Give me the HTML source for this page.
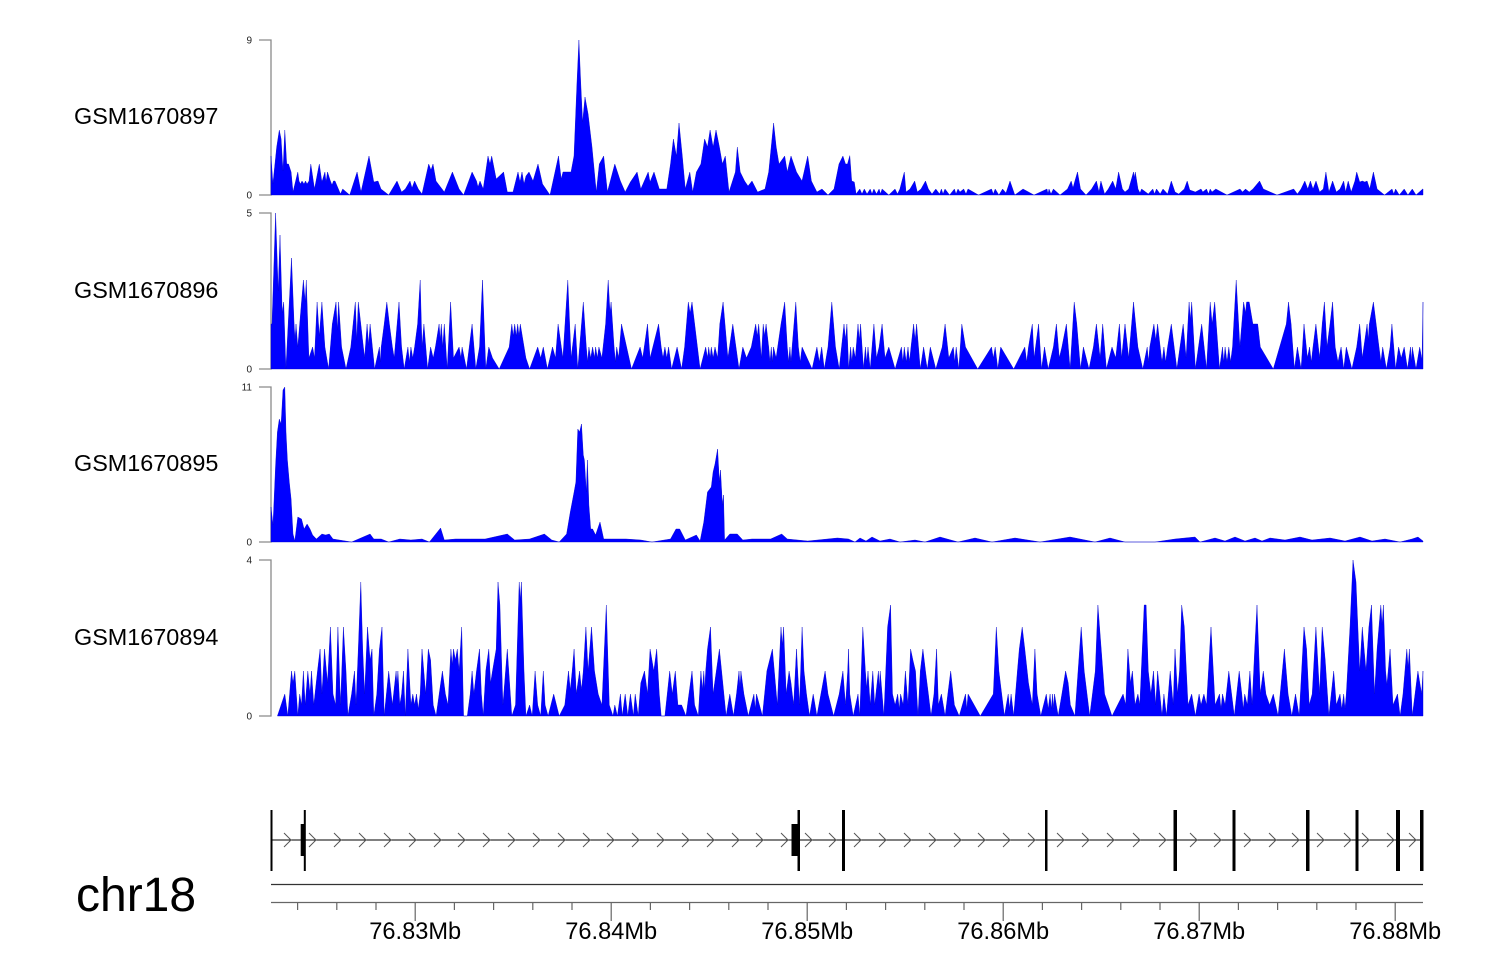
<!DOCTYPE html>
<html>
<head>
<meta charset="utf-8">
<style>
html,body{margin:0;padding:0;background:#fff;}
svg{display:block;}
text{font-family:"Liberation Sans",Arial,sans-serif;}
</style>
</head>
<body>
<svg width="1500" height="980" viewBox="0 0 1500 980" xmlns="http://www.w3.org/2000/svg">
<rect width="1500" height="980" fill="#fff"/>

<text x="74" y="124" font-size="23.4" fill="#000">GSM1670897</text>
<text x="74" y="298" font-size="23.4" fill="#000">GSM1670896</text>
<text x="74" y="471" font-size="23.4" fill="#000">GSM1670895</text>
<text x="74" y="645" font-size="23.4" fill="#000">GSM1670894</text>

<g stroke="#8a8a8a" stroke-width="1.3" fill="none">
  <path d="M259,40 H271 V195 H259"/>
  <path d="M259,213 H271 V369 H259"/>
  <path d="M259,387 H271 V542 H259"/>
  <path d="M259,560 H271 V716 H259"/>
</g>
<g font-size="10" fill="#222" text-anchor="end">
  <text x="252" y="43.5">9</text>
  <text x="252" y="198.5">0</text>
  <text x="252" y="216.5">5</text>
  <text x="252" y="372.5">0</text>
  <text x="252" y="390.5">11</text>
  <text x="252" y="545.5">0</text>
  <text x="252" y="563.5">4</text>
  <text x="252" y="719.5">0</text>
</g>

<g fill="#0000ff" stroke="#0000cc" stroke-width="0.4">
<path d="M271,195 L271,156 L272.9,184 L276.7,147 L279.3,130 L281.1,139 L283,171 L284.8,130 L286.7,164 L288.5,164 L291.1,172 L293,192 L297.8,172 L299,181 L300.5,184 L302,181 L304,184 L305.5,181 L307,184 L309,181 L310.8,164 L314.5,189 L319.3,164 L321.9,182 L324.9,172 L326,182 L327.5,172 L330.4,181 L332,185 L333.5,181 L335,181 L340.5,194 L342.7,189 L349.7,195 L357.1,172 L361,192 L369,156 L373.8,182 L378,181 L381,189 L388.7,195 L397,181 L401.6,192 L405.3,189 L410,181 L412,188 L414.6,181 L418.3,189 L422,194 L428.7,164 L431,170 L433,164 L436,181 L444.3,192 L452.4,172 L459.1,189 L463.6,195 L472.1,172 L476.5,181 L478,187 L480,181 L483.2,189 L488,156 L490,164 L491.7,156 L496.2,179 L503.6,172 L507.3,192 L513,192 L518,172 L520,182 L522,172 L524,184 L526,176 L529,172 L533,181 L538,164 L542.5,184 L550,195 L558.5,156 L561.2,179 L563,172 L566.6,172 L571,172 L574,156 L577,82 L578.9,40 L580.7,82 L582.6,122 L585,97 L588.1,114 L592,147 L596.3,192 L599.3,164 L603.7,156 L607.4,192 L614.8,164 L620.4,181 L625.2,192 L630.4,182 L637.1,172 L640.8,189 L648.2,172 L650,182 L654,172 L659.3,189 L666.8,189 L670.5,164 L673.4,139 L676.4,156 L679,123 L682.3,156 L685.3,189 L689.8,172 L692.7,192 L696.4,172 L700.9,164 L704.6,139 L707.5,147 L710.1,130 L713.1,147 L716,130 L719.4,147 L722.4,164 L725.3,156 L729,192 L735.4,172 L737.3,147 L740.2,172 L744.6,181 L748,186 L752,181 L757.6,192 L765,189 L768.7,172 L773.6,123 L776.2,147 L779,164 L784.7,156 L787.3,172 L791,156 L796.5,172 L802,181 L807.7,156 L811.4,181 L816.9,192 L822,189 L828,195 L834,189 L839,164 L842.9,156 L845.5,164 L847.5,164 L849.8,155.6 L851.7,181 L854.3,182 L856.1,194 L859.8,189 L862,194 L864.3,189 L867,194 L870.2,189 L872,194 L873.9,189 L876.5,194 L879.1,189 L880.5,194 L882.1,189 L888.8,195 L895,189 L897.5,194 L899.9,189 L904.3,172 L906,192 L910,189 L914.7,181 L917.3,192 L921,189 L925.5,181 L928.4,189 L932,194 L935.8,189 L939.6,194 L941.4,189 L943,194 L945,189 L949.6,195 L954.4,189 L956,194 L958,189 L960,192 L963.7,189 L966,194 L968,189 L978.5,195 L991.5,189 L993.3,194 L995.2,189 L998.9,195 L1002.6,189 L1006,193 L1010,181 L1014.8,195 L1023,189 L1034,195 L1047,189 L1048,194 L1049,189 L1051,194 L1053.4,189 L1060,195 L1067.5,189 L1071.2,181 L1073,188 L1074.9,181 L1077.5,172 L1080.5,189 L1086,195 L1091.6,189 L1096.4,181 L1099,192 L1100.9,181 L1104.6,194 L1108.3,189 L1112.7,181 L1115.7,189 L1118.6,172 L1122.4,189 L1125,192 L1128.7,189 L1133.5,172 L1134.4,178 L1135.3,172 L1138,189 L1140,193 L1141.6,189 L1148.3,194 L1152.8,189 L1154.5,194 L1156.5,189 L1160.2,194 L1163,189 L1167.6,194 L1171.3,181 L1175,192 L1178.7,194 L1184.3,189 L1187.2,181 L1189.8,190 L1195.4,192 L1201,189 L1202.8,192 L1206.5,189 L1208.5,194 L1210.2,189 L1212,192 L1215.8,189 L1227,195 L1240,189 L1242.5,192 L1245.5,189 L1249.2,192 L1252.9,189 L1259.6,181 L1263.3,189 L1277,195 L1293.7,189 L1297.4,194 L1301,189 L1304.8,181 L1307.8,189 L1310.4,181 L1313,189 L1316,181 L1319.6,192 L1323.3,189 L1325.9,172 L1328.9,192 L1332.6,181 L1336.3,192 L1340,189 L1343.7,181 L1345.6,192 L1348.2,181 L1351.2,192 L1354.9,181 L1356.7,172 L1359.7,182 L1362.3,181 L1364.8,182 L1367.1,181 L1369.7,189 L1373.4,172 L1377.1,189 L1384.5,195 L1392,189 L1393.8,194 L1395.6,189 L1399.3,195 L1404.2,189 L1407.9,195 L1412.3,189 L1416,195 L1422.7,189 L1423,189 L1423,195 Z"/>

<path d="M271,369 L271,324 L272,324 L275.6,213 L278.2,291 L280,235 L282.2,313 L283.7,302 L285.9,369 L291.5,258 L294.1,324 L295,340 L296,324 L297.8,347 L299.7,324 L301.5,302 L303.4,280 L305.2,302 L306.3,280 L308.9,358 L312.6,347 L314.5,358 L317.1,302 L319.3,336 L321.9,302 L324.9,347 L328.6,369 L332.3,324 L336,302 L337.3,330 L338.6,302 L341.6,347 L346,369 L350.8,347 L355.3,302 L356.8,340 L358.3,302 L360.8,324 L364.6,358 L367.1,324 L368.6,345 L370.1,324 L374.6,369 L379.4,347 L380.3,362 L381.2,347 L384.2,324 L386.8,302 L389.4,324 L392.4,347 L394.2,358 L399,302 L401.6,347 L404.2,369 L407.9,347 L409.4,362 L410.9,347 L412.8,358 L414.6,347 L417.6,324 L420.2,280 L422,347 L423.9,324 L427.6,369 L430.6,347 L433.2,358 L435.4,347 L439.1,324 L440.2,340 L441.3,324 L442.8,347 L444.3,324 L447.2,369 L450.6,302 L453.5,358 L459.1,347 L461,358 L462.1,347 L466.5,369 L472.1,324 L475.8,369 L479.5,347 L482.5,280 L485.8,369 L488.8,347 L492.5,358 L499.2,369 L509.2,347 L511.8,324 L513.2,336 L514.7,324 L516.2,336 L517.7,324 L519,336 L520.3,324 L525.9,358 L529.6,369 L537.7,347 L540.7,358 L543.3,347 L547.4,369 L552.5,347 L555.5,358 L558.1,324 L562.9,358 L567.8,280 L571.1,358 L575.2,324 L577.8,369 L583.3,302 L586.3,347 L587.6,362 L588.9,347 L590.7,358 L592.6,347 L594.5,358 L595.6,347 L597.4,358 L598.9,347 L601.9,358 L605.6,324 L608.2,280 L610,313 L611.1,302 L614.1,347 L615.4,362 L616.7,347 L618.6,358 L621.5,324 L631.5,369 L640.1,347 L642.7,358 L647.5,324 L650.1,358 L658.6,324 L661.2,347 L663,358 L664.9,347 L666.8,358 L668.6,347 L671.6,369 L677.1,347 L681.6,369 L684.6,347 L688.3,302 L690.1,313 L692,302 L700.1,369 L705.7,347 L707.5,358 L708.7,347 L710.1,358 L711.3,347 L713.1,358 L715,347 L717.6,358 L719.8,324 L723.1,302 L727.9,358 L732.8,324 L739,369 L742.8,347 L746.5,358 L751.3,347 L755.7,324 L757.2,336 L758.7,324 L761.3,358 L763.2,324 L764.6,336 L766.1,324 L768.7,347 L770,362 L771.3,347 L772.4,362 L773.5,347 L776.1,358 L781,324 L784.7,302 L787.3,347 L788.6,362 L789.9,347 L791,362 L792.1,347 L795.8,302 L798.4,347 L800.2,362 L802.1,347 L812.1,369 L816.9,347 L819.3,362 L821.7,347 L824.3,369 L828,347 L831.8,302 L835.5,347 L839.2,369 L844,324 L845.5,340 L846.9,324 L848.7,369 L850.6,347 L851.9,362 L853.2,347 L855.4,358 L858,324 L859.3,340 L860.6,324 L863.5,369 L865.4,347 L866.7,362 L868,347 L870.2,369 L873.9,324 L876.5,358 L879.1,347 L882.1,324 L885,358 L888.8,347 L895.1,369 L901.4,347 L902.9,362 L904.3,347 L906.2,362 L908,347 L909.5,362 L911,347 L913.6,324 L915.1,340 L916.6,324 L920.3,369 L923.6,347 L927.3,369 L930.3,347 L935.8,369 L942.2,347 L945.1,324 L948.8,358 L953.3,347 L954.8,362 L956.2,347 L958.8,369 L961.8,324 L965.5,347 L977.7,369 L991.5,347 L993.3,358 L995.2,347 L997.8,369 L1000.7,347 L1013.7,369 L1024.8,347 L1026.7,362 L1028.5,347 L1032.3,324 L1034.1,358 L1038.6,324 L1041.5,369 L1044.5,347 L1048.2,369 L1053.4,347 L1056.4,324 L1059.3,358 L1061.9,347 L1066.4,324 L1070.1,369 L1074.2,302 L1076.8,324 L1080.5,369 L1083.4,347 L1089,369 L1093.4,347 L1096.4,324 L1100.1,358 L1102.7,324 L1106.4,369 L1112,347 L1115.7,358 L1119.4,324 L1121.6,358 L1125,324 L1128.7,358 L1133.5,302 L1137.9,347 L1142.8,369 L1147.2,347 L1148.5,362 L1149.8,347 L1153.9,324 L1155.8,340 L1157.6,324 L1160.2,347 L1162,362 L1163.9,347 L1165.7,362 L1167.6,347 L1171.3,324 L1176.9,369 L1183.2,324 L1186.1,358 L1189.1,302 L1190.4,320 L1191.7,302 L1195.4,369 L1201.7,324 L1206.5,369 L1210.2,302 L1212.1,324 L1214.7,302 L1219.5,369 L1222.5,347 L1223.8,362 L1225.1,347 L1227,362 L1228.8,347 L1230.6,362 L1232.5,347 L1236.2,280 L1239.9,347 L1243.6,302 L1245.5,313 L1246.6,302 L1249.2,302 L1252.9,324 L1257.7,324 L1260.3,347 L1273.3,369 L1286.3,324 L1288.5,302 L1291.1,324 L1294.4,369 L1297.4,347 L1301.1,369 L1304,324 L1307.4,358 L1309.6,347 L1311.3,362 L1313,347 L1315.9,324 L1319.6,358 L1322.2,324 L1324.4,302 L1327,347 L1330,324 L1332.6,302 L1335.2,347 L1338,362 L1341.1,347 L1343.7,369 L1346.3,347 L1351.9,369 L1356.7,347 L1359.7,324 L1362.3,358 L1367.1,324 L1368.2,340 L1369.3,324 L1373.4,302 L1379,347 L1380.9,362 L1382.7,347 L1386.4,369 L1390.1,347 L1391.9,324 L1395.6,369 L1398.6,347 L1401.2,358 L1404.2,347 L1407.5,369 L1410.5,347 L1411.4,362 L1412.3,347 L1416,369 L1419.7,347 L1422,360 L1423,302 L1423,369 Z"/>

<path d="M271,542 L271,507 L273,525 L275.6,465 L277.4,432 L279.3,419 L281.1,424 L283,390 L284.8,387 L286,432 L287.4,460 L289.3,482 L291.1,499 L293,534 L294.8,541 L297.8,517 L301.5,519 L304.1,529 L307.1,524 L310,529 L312.6,535 L316.4,539 L321.9,534 L325.6,535 L329.3,534 L333,539 L351.6,542 L370.1,534 L373.8,539 L381.2,539 L388.7,542 L399.8,539 L410.9,540 L422,539 L429.4,542 L440.6,528 L444.3,540 L455.4,539 L470.2,539 L485.1,539 L507.3,534 L514.7,540 L529.6,539 L544.4,534 L551.8,540 L559.2,542 L566.6,534 L570.3,512 L574.1,492 L575.9,482 L577.8,429 L579.6,432 L581.5,424 L583.3,455 L584.4,460 L586.3,492 L587.4,460 L588.9,505 L590.7,529 L592.6,529 L595.6,535 L600,522 L603.7,539 L611.1,539 L626,539 L640.8,540 L652,542 L670.5,539 L676,529 L679.7,529 L685.3,540 L696.4,535 L700.1,541 L703.8,522 L707.5,492 L711.3,487 L713.1,472 L715,464 L717.6,449 L719.4,482 L720.5,470 L722.4,505 L723.5,495 L724.6,540 L729.8,534 L737.3,534 L742.8,540 L752,539 L770.6,539 L781.7,534 L787.3,539 L807.7,541 L837.4,538 L848.5,539 L855,542 L860,538 L866,541 L872,537 L880,541 L890,539 L900,542 L915,540 L925,542 L940,537 L958,542 L975,538 L992,542 L1015,538 L1040,542 L1070,537 L1095,542 L1110,538 L1125,542 L1155,542 L1175,539 L1195,537 L1200,542 L1215,538 L1225,541 L1235,537 L1245,541 L1255,538 L1262,541 L1270,538 L1285,540 L1300,537 L1312,540 L1330,538 L1345,541 L1360,537 L1372,541 L1385,539 L1400,542 L1412,539 L1418,537 L1423,541 L1423,542 Z"/>

<path d="M277.4,716 L284.8,694 L287.8,716 L291.5,671 L293,683 L294.8,671 L297.8,716 L299.7,694 L301.5,705 L303.4,671 L305.2,705 L307.8,671 L310,694 L311.5,671 L313.8,705 L317.5,671 L320.1,649 L321.9,694 L324.5,649 L327.5,683 L330.4,627 L333,694 L335.6,705 L337.9,627 L340.5,705 L343.4,627 L346,671 L347.9,716 L351.6,694 L354.5,671 L356,705 L358.3,649 L360.8,582 L362.7,649 L364.6,694 L367.5,627 L370.1,660 L372,649 L373.8,716 L376.8,694 L379.4,649 L382,627 L384.2,716 L388.7,671 L392.4,705 L396.1,671 L397,685 L397.9,671 L399.8,705 L401.6,694 L403.5,671 L405.3,716 L407.9,649 L410.9,705 L412.8,694 L414.6,705 L416.5,694 L418.3,709 L420.2,694 L422,649 L425.7,694 L428.3,649 L430.6,660 L433.2,705 L436.1,716 L442.4,671 L445.4,694 L448,705 L450.9,649 L452.2,665 L453.5,649 L455.4,660 L457.3,649 L459.1,671 L461.7,627 L463.6,716 L467.3,716 L470.2,694 L472.1,671 L473.9,694 L476.5,671 L479.5,649 L481.4,694 L483.2,716 L485.8,671 L488.8,649 L490.6,683 L492.5,671 L496.2,649 L498,582 L499.9,605 L502.9,705 L507.3,649 L511.8,716 L515.5,705 L519.2,582 L520.3,600 L521.4,582 L524,671 L525.9,716 L529.6,705 L532.2,716 L535.1,671 L537.7,705 L540.7,716 L543.3,671 L545.1,705 L548.1,716 L553.7,694 L559.2,716 L564.8,705 L568.5,671 L570.3,690 L572.2,671 L574.1,649 L576.3,694 L579.6,671 L581.5,690 L583.3,671 L585.9,627 L588.1,671 L591.5,627 L594.5,671 L598.2,694 L601.9,705 L606.3,605 L609.3,705 L613,716 L614.8,705 L617.4,716 L620.4,694 L622.3,716 L625.2,694 L627.8,716 L630.4,694 L633.4,716 L635.2,694 L638.2,716 L640.8,683 L644.5,671 L647.5,694 L650.1,649 L653.8,671 L656.7,649 L659.3,694 L661.2,716 L664.9,716 L669.7,671 L672.3,694 L675.3,671 L677.9,705 L681.6,705 L686,716 L692,671 L694.6,705 L698.3,716 L700.9,671 L702.4,690 L703.8,671 L704.8,690 L705.7,671 L707.5,649 L710.5,627 L713.1,694 L719.4,649 L726.1,716 L729.8,694 L733.5,716 L736.5,694 L739,671 L740,688 L740.9,671 L743.9,694 L748.3,716 L753.9,694 L755.2,709 L756.5,694 L762.4,716 L766.9,671 L772.4,649 L777.3,705 L781,627 L782.3,645 L783.6,627 L786.2,694 L789.1,671 L791,683 L793.6,705 L796.5,649 L799.5,705 L802.1,627 L804,671 L806.5,694 L809.5,716 L813.2,694 L816.9,716 L825.1,671 L828,694 L833.6,716 L839.2,694 L842.9,671 L845.5,705 L847.7,671 L848.5,649 L849.8,694 L853.2,716 L858,694 L859.8,716 L862.8,627 L865.4,671 L866.7,688 L868,671 L870.2,705 L872.8,671 L874.7,705 L878.4,671 L879.3,688 L880.2,671 L883.9,716 L887.6,627 L890.6,605 L892.5,694 L895.1,705 L897.7,694 L899.2,709 L900.6,694 L903.2,705 L905.4,671 L908,705 L910.6,649 L912.9,660 L915.5,671 L918,716 L920.3,671 L922.9,649 L925.5,671 L928.4,694 L931,716 L934,694 L936.6,649 L938.4,705 L941.4,694 L945.1,716 L950.7,671 L954.4,705 L959.2,716 L965.5,694 L966.8,709 L968.1,694 L980.3,716 L993.3,694 L996.3,627 L998.9,671 L1004.4,716 L1008.2,694 L1009.6,709 L1011.1,694 L1013.7,716 L1017.4,671 L1019.3,649 L1022.2,627 L1024.8,649 L1028.5,683 L1032.3,705 L1034.9,649 L1037.1,694 L1040.8,716 L1046.3,694 L1048.2,709 L1050.1,694 L1051.3,709 L1052.6,694 L1053.5,709 L1054.5,694 L1058.2,716 L1061.9,694 L1065.6,671 L1068.2,683 L1070.4,705 L1074.9,716 L1081.2,627 L1084.2,671 L1089.7,716 L1095.3,671 L1097.9,605 L1104.6,694 L1112,716 L1123.1,694 L1125.7,705 L1127.9,649 L1130.5,683 L1132.4,671 L1135,705 L1137.9,694 L1139.8,705 L1144.2,605 L1146.1,605 L1148.3,671 L1150.9,694 L1153.5,671 L1155.7,705 L1157.6,671 L1162,716 L1163.9,694 L1166.5,716 L1170.2,671 L1173.2,705 L1175,649 L1177.6,694 L1179.5,671 L1181.7,605 L1184.3,627 L1188,705 L1191.7,694 L1195.4,716 L1199.1,694 L1201,705 L1203.9,694 L1206.5,705 L1211,627 L1215.1,705 L1219.5,694 L1221,709 L1222.5,694 L1225.1,705 L1228.8,671 L1234.3,716 L1239.2,671 L1241.8,694 L1243.2,709 L1244.7,694 L1247.3,705 L1249.9,671 L1252.1,705 L1254.7,649 L1257,605 L1260.3,694 L1263.3,671 L1265.9,694 L1269.6,705 L1273.3,694 L1278.1,716 L1284.4,649 L1288.1,694 L1291.8,716 L1295.5,694 L1299.2,716 L1304,627 L1306.6,649 L1309.2,705 L1312.2,694 L1315.9,627 L1319.6,694 L1322.2,627 L1325.2,660 L1328.9,716 L1333.7,671 L1336.3,705 L1340,694 L1341.8,709 L1343.7,694 L1345,709 L1346.3,694 L1350,627 L1353,560 L1356,582 L1359.7,671 L1362.3,627 L1364.1,649 L1366,671 L1368.9,627 L1371.5,605 L1374.5,694 L1377.1,649 L1380.8,605 L1382.1,625 L1383.4,605 L1385.6,671 L1386.9,685 L1388.2,671 L1390.1,649 L1393,705 L1397.5,694 L1400.1,716 L1403,694 L1406.8,649 L1408.1,668 L1409.4,649 L1412.3,716 L1417.9,671 L1421.6,694 L1423,671 L1423,716 Z"/>
</g>

<line x1="271" y1="840" x2="1423" y2="840" stroke="#000" stroke-width="1"/>
<path fill="none" stroke="#555" stroke-width="1" d="M284,833 L291,840 L284,847 M309,833 L316,840 L309,847 M334,833 L341,840 L334,847 M359,833 L366,840 L359,847 M384,833 L391,840 L384,847 M409,833 L416,840 L409,847 M434,833 L441,840 L434,847 M458,833 L465,840 L458,847 M483,833 L490,840 L483,847 M508,833 L515,840 L508,847 M533,833 L540,840 L533,847 M558,833 L565,840 L558,847 M583,833 L590,840 L583,847 M607,833 L614,840 L607,847 M632,833 L639,840 L632,847 M657,833 L664,840 L657,847 M682,833 L689,840 L682,847 M707,833 L714,840 L707,847 M732,833 L739,840 L732,847 M756,833 L763,840 L756,847 M781,833 L788,840 L781,847 M805,833 L812,840 L805,847 M829,833 L836,840 L829,847 M854,833 L861,840 L854,847 M879,833 L886,840 L879,847 M904,833 L911,840 L904,847 M929,833 L936,840 L929,847 M954,833 L961,840 L954,847 M978,833 L985,840 L978,847 M1003,833 L1010,840 L1003,847 M1028,833 L1035,840 L1028,847 M1057,833 L1064,840 L1057,847 M1082,833 L1089,840 L1082,847 M1107,833 L1114,840 L1107,847 M1133,833 L1140,840 L1133,847 M1159,833 L1166,840 L1159,847 M1190,833 L1197,840 L1190,847 M1214,833 L1221,840 L1214,847 M1244,833 L1251,840 L1244,847 M1269,833 L1276,840 L1269,847 M1292,833 L1299,840 L1292,847 M1317,833 L1324,840 L1317,847 M1344,833 L1351,840 L1344,847 M1362,833 L1369,840 L1362,847 M1387,833 L1394,840 L1387,847 M1409,833 L1416,840 L1409,847"/>
<g fill="#000">
  <rect x="270.5" y="810" width="2" height="61"/>
  <rect x="300.7" y="824" width="4" height="32"/>
  <rect x="303.8" y="810" width="2" height="61"/>
  <rect x="791.5" y="824" width="6.5" height="32"/>
  <rect x="797.5" y="810" width="2.5" height="61"/>
  <rect x="842" y="810" width="3" height="61"/>
  <rect x="1045" y="810" width="2.5" height="61"/>
  <rect x="1173.5" y="810" width="3.5" height="61"/>
  <rect x="1232.5" y="810" width="3" height="61"/>
  <rect x="1306" y="810" width="3.5" height="61"/>
  <rect x="1355.5" y="810" width="3" height="61"/>
  <rect x="1396" y="810" width="4" height="61"/>
  <rect x="1420" y="810" width="3.5" height="61"/>
</g>

<text x="76" y="911" font-size="48" fill="#000">chr18</text>

<line x1="271" y1="884.5" x2="1423" y2="884.5" stroke="#333" stroke-width="1.2"/>
<line x1="271" y1="902.5" x2="1423" y2="902.5" stroke="#666" stroke-width="1.2"/>
<path stroke="#666" stroke-width="1.2" fill="none" d="M297.6,902 V910 M336.8,902 V910 M376,902 V910 M415.2,902 V921 M454.4,902 V910 M493.6,902 V910 M532.8,902 V910 M572,902 V910 M611.2,902 V921 M650.4,902 V910 M689.6,902 V910 M728.8,902 V910 M768,902 V910 M807.2,902 V921 M846.4,902 V910 M885.6,902 V910 M924.8,902 V910 M964,902 V910 M1003.2,902 V921 M1042.4,902 V910 M1081.6,902 V910 M1120.8,902 V910 M1160,902 V910 M1199.2,902 V921 M1238.4,902 V910 M1277.6,902 V910 M1316.8,902 V910 M1356,902 V910 M1395.2,902 V921"/>
<g font-size="23.6" fill="#000" text-anchor="middle">
  <text x="415.2" y="939">76.83Mb</text>
  <text x="611.2" y="939">76.84Mb</text>
  <text x="807.2" y="939">76.85Mb</text>
  <text x="1003.2" y="939">76.86Mb</text>
  <text x="1199.2" y="939">76.87Mb</text>
  <text x="1395.2" y="939">76.88Mb</text>
</g>
</svg>
</body>
</html>
